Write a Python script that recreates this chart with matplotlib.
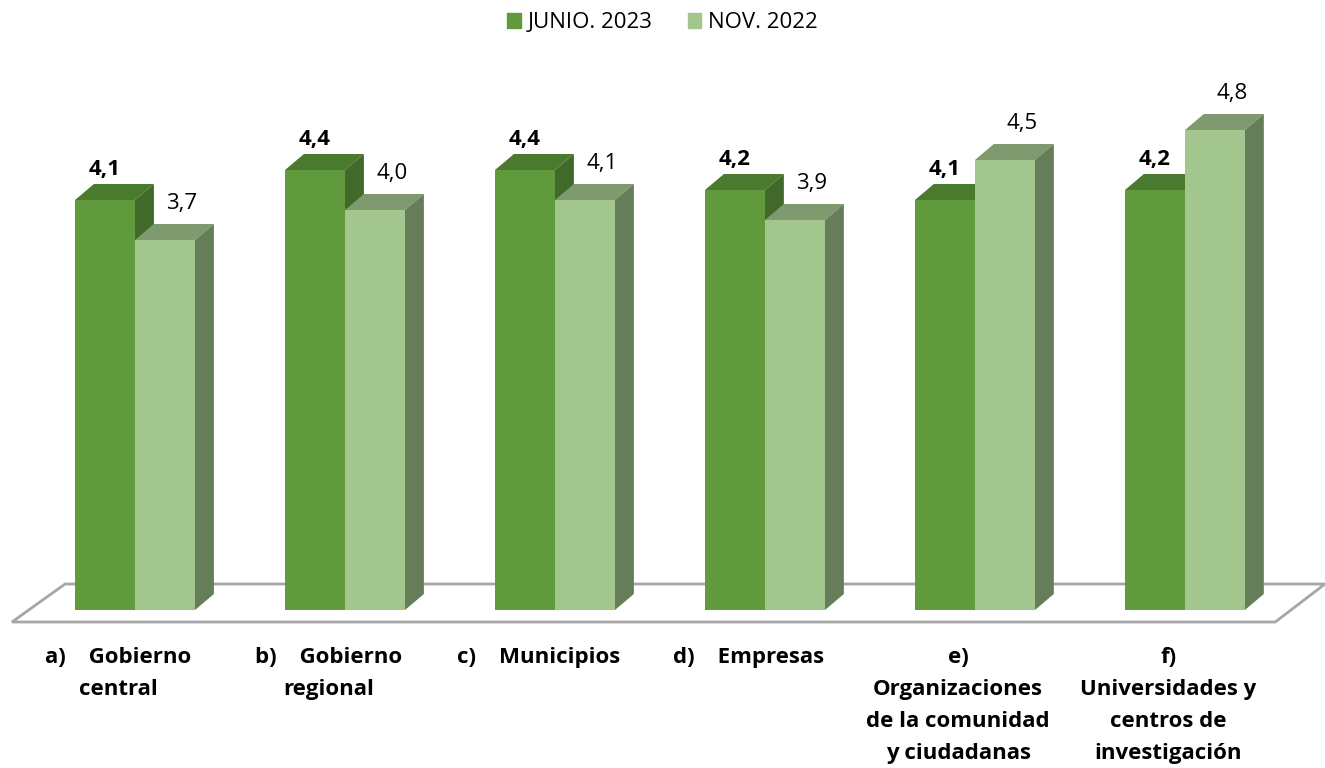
import matplotlib.pyplot as plt
from matplotlib.patches import Polygon, Patch

plt.rcParams['font.family'] = ['Open Sans', 'DejaVu Sans']

categorias = ["a)    Gobierno\ncentral", "b)    Gobierno\nregional", "c)    Municipios",
              "d)    Empresas", "e)\nOrganizaciones\nde la comunidad\ny ciudadanas",
              "f)\nUniversidades y\ncentros de\ninvestigación"]
junio_2023 = [4.1, 4.4, 4.4, 4.2, 4.1, 4.2]
nov_2022 = [3.7, 4.0, 4.1, 3.9, 4.5, 4.8]

# colores: frente, techo, lateral
c_junio = ("#619A3C", "#4A7A2E", "#41692A")
c_nov = ("#A3C58E", "#7F9A6F", "#667D59")

w = 0.2857          # ancho de cada barra (unidades de categoria)
dx, dy = 0.09, 0.16  # profundidad 3D

fig = plt.figure(figsize=(13.25, 7.68), dpi=100)
ax = fig.add_axes([0, 0, 1, 1])
ax.set_xlim(-0.643, 5.667)
ax.set_ylim(-1.58, 6.1)
ax.axis('off')

# suelo
n = len(categorias)
suelo = Polygon([(-0.586, -0.12), (n - 0.57, -0.12), (n - 0.333, 0.26), (-0.333, 0.26)],
                closed=True, facecolor='white', edgecolor='#A6A6A6', lw=2, zorder=1)
ax.add_patch(suelo)


def barra(x0, v, cols, z):
    fr, tp, sd = cols
    ax.add_patch(Polygon([(x0, v), (x0 + w, v), (x0 + w + dx, v + dy), (x0 + dx, v + dy)],
                         closed=True, facecolor=tp, edgecolor='none', zorder=z))
    ax.add_patch(Polygon([(x0 + w, 0), (x0 + w + dx, dy), (x0 + w + dx, v + dy), (x0 + w, v)],
                         closed=True, facecolor=sd, edgecolor='none', zorder=z))
    ax.bar(x0, v, width=w, align='edge', color=fr, zorder=z + 0.5)


for i in range(n):
    barra(i - w, junio_2023[i], c_junio, 2 + i)
    barra(i, nov_2022[i], c_nov, 2.6 + i)
    ax.text(i - w / 2, junio_2023[i] + 0.3, f"{junio_2023[i]:.1f}".replace('.', ','),
            ha='center', va='center', fontsize=16, fontweight='bold', zorder=20)
    ax.text(i + w / 2 + 0.08, nov_2022[i] + 0.37, f"{nov_2022[i]:.1f}".replace('.', ','),
            ha='center', va='center', fontsize=16, zorder=20)
    ax.text(i - 0.08, -0.37, categorias[i], ha='center', va='top', multialignment='center',
            fontsize=16, fontweight='bold', linespacing=1.68)

handles = [Patch(color=c_junio[0], label='JUNIO. 2023'), Patch(color=c_nov[0], label='NOV. 2022')]
fig.legend(handles=handles, loc='upper center', bbox_to_anchor=(0.5, 1.01), ncol=2,
           frameon=False, fontsize=16, handlelength=0.6, handleheight=0.6,
           handletextpad=0.3, columnspacing=1.6)

fig.savefig('out.png', dpi=100)
